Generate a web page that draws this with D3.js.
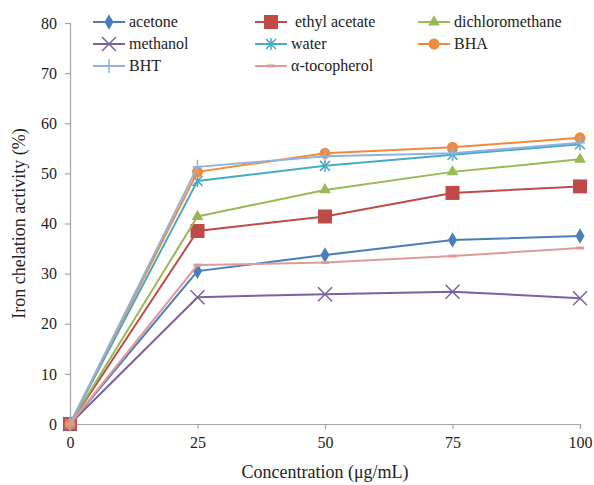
<!DOCTYPE html>
<html><head><meta charset="utf-8">
<script src="https://cdn.jsdelivr.net/npm/d3@7"></script>
<style>body{margin:0;background:#fff}svg{display:block}</style>
</head><body>
<script>
const concentrations = [0, 25, 50, 75, 100];
const xTicks = [0, 25, 50, 75, 100];
const yTicks = [0, 10, 20, 30, 40, 50, 60, 70, 80];
const seriesNames = ["acetone", " ethyl acetate", "dichloromethane", "methanol", "water", "BHA", "BHT", "α-tocopherol"];
const acetone = [0, 30.5, 33.7, 36.7, 37.5];
const ethylAcetate = [0, 38.5, 41.4, 46.1, 47.4];
const dichloromethane = [0, 41.4, 46.7, 50.3, 52.8];
const methanol = [0, 25.3, 25.9, 26.4, 25.1];
const water = [0, 48.5, 51.5, 53.7, 55.8];
const bha = [0, 50.3, 54.0, 55.2, 57.1];
const bht = [0, 51.3, 53.4, 54.0, 56.1];
const tocopherol = [0, 31.7, 32.2, 33.5, 35.1];
const seriesValues = [acetone, ethylAcetate, dichloromethane, methanol, water, bha, bht, tocopherol];
const colors = ["#4a7ebb", "#be4b48", "#98b954", "#7d60a0", "#46aac5", "#f28a3c", "#8fb2df", "#e09a9a"];
const markers = ["diamond", "square", "triangle", "x", "asterisk", "circle", "plus", "dash"];

const FONT = "'Liberation Serif', 'Times New Roman', Times, 'DejaVu Serif', serif";
const W = 594, H = 485;
const m = {left: 70, right: 14, top: 23, bottom: 61};
const svg = d3.select("body").append("svg").attr("width", W).attr("height", H);
const x = d3.scaleLinear().domain([0, 100]).range([m.left, W - m.right]);
const y = d3.scaleLinear().domain([0, 80]).range([H - m.bottom, m.top]);

const axisColor = "#a6a6a6";
const gx = svg.append("g").attr("transform", `translate(0,${y(0)})`)
  .call(d3.axisBottom(x).tickValues(xTicks).tickSize(5).tickPadding(8).tickFormat(d3.format("d")));
const gy = svg.append("g").attr("transform", `translate(${x(0)},0)`)
  .call(d3.axisLeft(y).tickValues(yTicks).tickSize(5).tickPadding(8).tickFormat(d3.format("d")));
[gx, gy].forEach(g => {
  g.attr("font-family", null).attr("font-size", null);
  g.select(".domain").attr("stroke", axisColor).attr("stroke-width", 1.2);
  g.selectAll(".tick line").attr("stroke", axisColor).attr("stroke-width", 1.2);
  g.selectAll(".tick text").attr("font-family", FONT).attr("font-size", "16px").attr("fill", "#222");
});

svg.append("text").attr("x", x(50)).attr("y", 478).attr("text-anchor", "middle")
  .attr("font-family", FONT).attr("font-size", "18px").attr("fill", "#222").text("Concentration (μg/mL)");
svg.append("text").attr("transform", `translate(25,${y(40)}) rotate(-90)`).attr("text-anchor", "middle")
  .attr("font-family", FONT).attr("font-size", "18px").attr("fill", "#222").text("Iron chelation activity (%)");

function drawMarker(g, type, cx, cy, color) {
  if (type === "diamond") {
    g.append("path").attr("d", d3.symbol(d3.symbolDiamond, 70)()).attr("transform", `translate(${cx},${cy})`).attr("fill", color);
  } else if (type === "square") {
    g.append("rect").attr("x", cx - 7).attr("y", cy - 7).attr("width", 14).attr("height", 14).attr("fill", color);
  } else if (type === "triangle") {
    g.append("path").attr("d", d3.symbol(d3.symbolTriangle, 60)()).attr("transform", `translate(${cx},${cy})`).attr("fill", color);
  } else if (type === "circle") {
    g.append("circle").attr("cx", cx).attr("cy", cy).attr("r", 5.5).attr("fill", color);
  } else if (type === "x") {
    const s = 7;
    g.append("path").attr("d", `M${cx-s},${cy-s}L${cx+s},${cy+s}M${cx-s},${cy+s}L${cx+s},${cy-s}`).attr("stroke", color).attr("stroke-width", 1.5).attr("fill", "none");
  } else if (type === "asterisk") {
    const s = 5;
    g.append("path").attr("d", `M${cx-s},${cy-s}L${cx+s},${cy+s}M${cx-s},${cy+s}L${cx+s},${cy-s}M${cx},${cy-s-1}L${cx},${cy+s+1}`).attr("stroke", color).attr("stroke-width", 1.5).attr("fill", "none");
  } else if (type === "plus") {
    g.append("path").attr("d", `M${cx},${cy-7}L${cx},${cy+7}M${cx-5},${cy}L${cx+5},${cy}`).attr("stroke", color).attr("stroke-width", 1.5).attr("fill", "none");
  } else if (type === "dash") {
    g.append("path").attr("d", `M${cx-4},${cy}L${cx+4},${cy}`).attr("stroke", color).attr("stroke-width", 3).attr("fill", "none");
  }
}

const line = d3.line().x((d, i) => x(concentrations[i])).y(d => y(d));
seriesValues.forEach((vals, si) => {
  const g = svg.append("g");
  g.append("path").datum(vals).attr("d", line).attr("fill", "none").attr("stroke", colors[si]).attr("stroke-width", 2);
  vals.forEach((v, i) => drawMarker(g, markers[si], x(concentrations[i]), y(v), colors[si]));
});

// legend
const colX = [93, 255, 418];
const rowY = [22, 44, 66];
seriesNames.forEach((name, i) => {
  const cx = colX[i % 3], cy = rowY[Math.floor(i / 3)];
  const g = svg.append("g");
  g.append("line").attr("x1", cx).attr("x2", cx + 32).attr("y1", cy).attr("y2", cy).attr("stroke", colors[i]).attr("stroke-width", 2);
  drawMarker(g, markers[i], cx + 16, cy, colors[i]);
  g.append("text").attr("x", cx + 36).attr("y", cy + 5).attr("xml:space", "preserve").style("white-space", "pre")
    .attr("font-family", FONT).attr("font-size", "16px").attr("fill", "#222").text(name);
});
</script>
</body></html>
